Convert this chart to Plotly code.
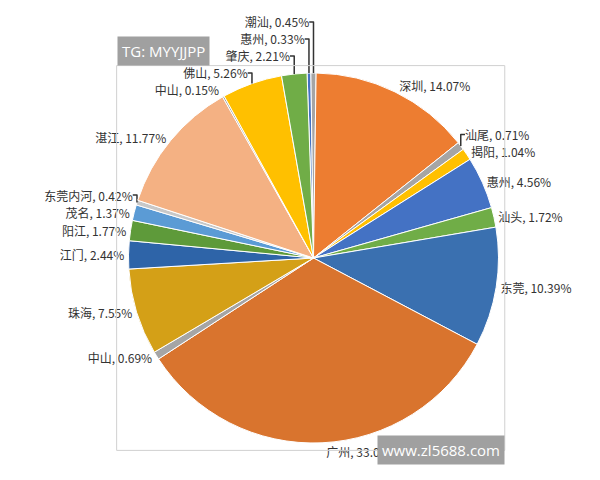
import plotly.graph_objects as go

names = ["惠州","潮汕","深圳","汕尾","揭阳","惠州","汕头","东莞","广州","中山","珠海","江门","阳江","茂名","东莞内河","湛江","中山","佛山","肇庆"]
values = [0.33,0.45,14.07,0.71,1.04,4.56,1.72,10.39,33.08,0.69,7.55,2.44,1.77,1.37,0.42,11.77,0.15,5.26,2.21]
colors = ["#4472C4","#A5A5A5","#ED7D31","#A5A5A5","#FFC000","#4472C4","#70AD47","#3A70B0","#D9742E","#A5A5A5","#D4A017","#2E64A8","#5E9A3A","#5B9BD5","#C8C8C8","#F4B183","#9E9E9E","#FFC000","#70AD47"]
uid = [n + "\u200b" * i for i, n in enumerate(names)]

fig = go.Figure(go.Pie(
    labels=uid, values=values, customdata=names, sort=False, direction="clockwise",
    rotation=-2, marker=dict(colors=colors, line=dict(color="white", width=1)),
    texttemplate="%{customdata}, %{value:.2f}%", textposition="outside",
    textfont=dict(size=12, color="#333", family="Noto Sans CJK SC"),
    showlegend=False))
fig.update_layout(
    width=600, height=480, paper_bgcolor="white",
    margin=dict(l=20, r=20, t=50, b=45),
    shapes=[dict(type="rect", xref="paper", yref="paper", x0=-0.025, x1=1.01, y0=-0.02, y1=1.02,
                 line=dict(color="#d0d0d0", width=1), fillcolor="rgba(0,0,0,0)")],
    annotations=[
        dict(text="TG: MYYJJPP", xref="paper", yref="paper", x=-0.025, y=1.1, xanchor="left",
             showarrow=False, bgcolor="#a0a0a0", font=dict(color="white", size=15), borderpad=4),
        dict(text="www.zl5688.com", xref="paper", yref="paper", x=1.01, y=-0.06, xanchor="right",
             showarrow=False, bgcolor="#a0a0a0", font=dict(color="white", size=15), borderpad=4),
    ])
fig.write_html("out.html")
